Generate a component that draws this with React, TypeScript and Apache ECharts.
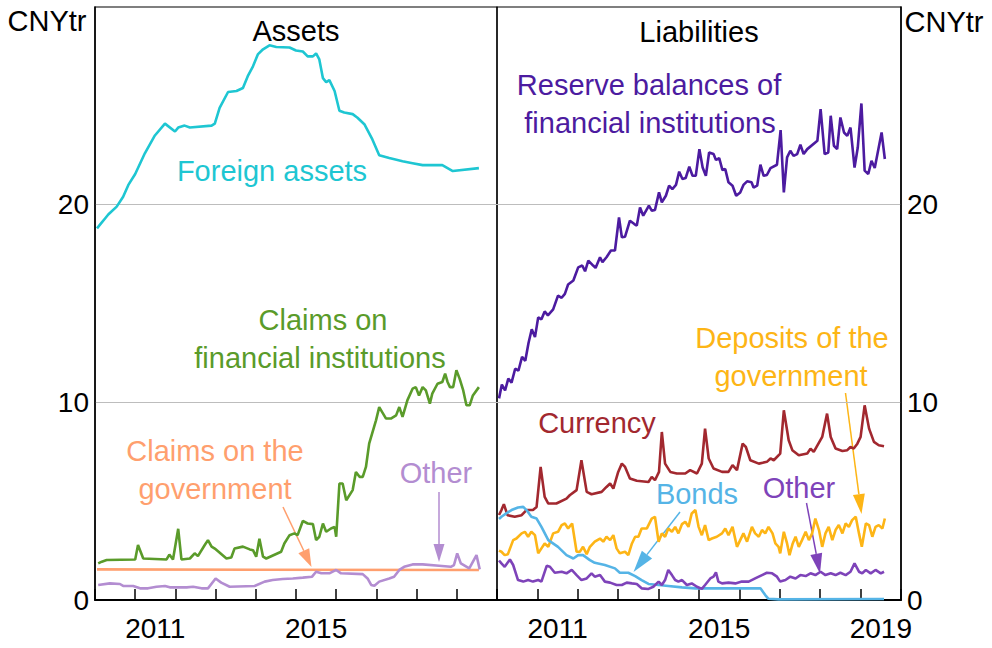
import React, { useEffect, useRef } from "react";
import * as echarts from "echarts";

const FONT = "'Liberation Sans', Arial, Helvetica, sans-serif";

const years = ["2010", "2011", "2012", "2013", "2014", "2015", "2016", "2017", "2018", "2019"];
const leftYearLabels = ["2011", "2015"];
const rightYearLabels = ["2011", "2015", "2019"];
const yTicks = [0, 10, 20];

// ---- Assets (CNY trillion), [decimal year, value]
const foreignAssets: [number, number][] = [
  [2010.05, 18.8], [2010.15, 19.05], [2010.25, 19.3], [2010.33, 19.5], [2010.54, 19.9], [2010.7, 20.4], [2010.83, 21.0],
  [2011.0, 21.55], [2011.24, 22.6], [2011.49, 23.5], [2011.74, 24.1], [2011.99, 23.7], [2012.07, 23.9], [2012.23, 24.0],
  [2012.36, 23.9], [2012.9, 24.0], [2012.98, 24.1], [2013.1, 24.9], [2013.31, 25.7], [2013.52, 25.75], [2013.68, 25.9],
  [2013.8, 26.5], [2013.93, 27.0], [2014.05, 27.6], [2014.18, 27.86], [2014.34, 28.06], [2014.51, 27.98], [2014.84, 27.95],
  [2015.0, 27.8], [2015.17, 27.75], [2015.29, 27.5], [2015.42, 27.5], [2015.5, 27.65], [2015.58, 27.35], [2015.67, 26.4],
  [2015.75, 26.2], [2015.83, 26.3], [2015.96, 25.75], [2016.08, 24.75], [2016.2, 24.66], [2016.41, 24.58], [2016.53, 24.4],
  [2016.7, 24.07], [2016.9, 23.3], [2017.07, 22.5], [2017.32, 22.36], [2017.65, 22.2], [2017.9, 22.1], [2018.15, 22.0],
  [2018.64, 22.0], [2018.9, 21.7], [2019.55, 21.85],
];
const claimsOnFinInst: [number, number][] = [
  [2010.08, 1.85], [2010.17, 1.94], [2010.29, 2.02], [2011.0, 2.05], [2011.07, 2.78], [2011.2, 2.1], [2011.78, 2.05],
  [2011.85, 2.3], [2011.94, 2.05], [2012.07, 3.6], [2012.15, 2.05], [2012.36, 2.1], [2012.48, 2.36], [2012.56, 2.22],
  [2012.73, 2.78], [2012.81, 3.03], [2012.9, 2.7], [2012.98, 2.6], [2013.27, 2.1], [2013.39, 2.15], [2013.47, 2.6],
  [2013.68, 2.7], [2013.85, 2.56], [2013.93, 2.52], [2014.01, 2.19], [2014.09, 3.1], [2014.18, 2.19], [2014.26, 2.1],
  [2014.63, 2.44], [2014.71, 2.86], [2014.84, 3.28], [2014.96, 3.37], [2015.04, 3.28], [2015.17, 4.0], [2015.29, 3.87],
  [2015.42, 3.84], [2015.5, 3.03], [2015.58, 3.2], [2015.67, 3.87], [2015.75, 3.45], [2015.87, 3.62], [2015.96, 3.7],
  [2016.0, 3.2], [2016.08, 5.89], [2016.16, 5.89], [2016.25, 5.05], [2016.41, 5.56], [2016.49, 6.48], [2016.58, 6.23],
  [2016.66, 6.23], [2016.74, 6.73], [2016.82, 7.91], [2016.99, 9.09], [2017.07, 9.76], [2017.24, 9.18], [2017.36, 9.18],
  [2017.49, 9.34], [2017.57, 9.76], [2017.65, 9.26], [2017.77, 10.1], [2017.9, 10.69], [2017.98, 10.77], [2018.06, 10.35],
  [2018.15, 10.77], [2018.23, 10.6], [2018.33, 9.93], [2018.39, 10.44], [2018.52, 10.94], [2018.64, 11.03], [2018.71, 11.45],
  [2018.77, 11.03], [2018.83, 10.77], [2018.91, 10.77], [2018.99, 11.62], [2019.07, 11.2], [2019.16, 10.6], [2019.24, 9.85],
  [2019.32, 9.85], [2019.4, 10.35], [2019.55, 10.77],
];
const claimsOnGovernment: [number, number][] = [
  [2010.05, 1.55], [2014.0, 1.53], [2019.55, 1.52],
];
const otherAssets: [number, number][] = [
  [2010.08, 0.76], [2010.37, 0.84], [2010.62, 0.81], [2010.7, 0.71], [2010.95, 0.71], [2011.12, 0.59], [2011.32, 0.59],
  [2011.53, 0.67], [2011.74, 0.71], [2011.86, 0.64], [2012.28, 0.64], [2012.44, 0.67], [2012.65, 0.59], [2012.81, 0.59],
  [2013.0, 1.09], [2013.14, 0.88], [2013.35, 0.67], [2013.97, 0.71], [2014.22, 0.93], [2014.42, 1.01], [2014.67, 1.06],
  [2014.92, 1.09], [2015.17, 1.13], [2015.4, 1.18], [2015.5, 1.43], [2015.63, 1.35], [2015.83, 1.35], [2016.0, 1.52],
  [2016.12, 1.35], [2016.66, 1.31], [2016.78, 1.09], [2016.87, 0.76], [2016.95, 0.72], [2017.07, 0.93], [2017.32, 1.09],
  [2017.44, 1.18], [2017.57, 1.52], [2017.69, 1.68], [2017.9, 1.8], [2018.15, 1.8], [2018.56, 1.73], [2018.85, 1.68],
  [2018.93, 1.77], [2019.01, 2.36], [2019.1, 1.85], [2019.31, 1.6], [2019.49, 2.27], [2019.57, 1.55],
];

// ---- Liabilities
const reserveBalances: [number, number][] = [
  [2010.05, 10.2], [2010.12, 10.9], [2010.2, 10.6], [2010.28, 11.2], [2010.36, 11.0], [2010.45, 11.7], [2010.53, 11.6],
  [2010.62, 12.3], [2010.7, 12.1], [2010.78, 13.0], [2010.86, 13.7], [2010.94, 13.3], [2011.02, 14.3], [2011.1, 14.2],
  [2011.18, 14.6], [2011.26, 14.4], [2011.39, 14.7], [2011.51, 15.4], [2011.6, 15.29], [2011.68, 15.49], [2011.76, 15.96],
  [2011.89, 16.16], [2012.01, 16.83], [2012.11, 16.92], [2012.18, 16.63], [2012.26, 17.17], [2012.38, 16.92], [2012.44, 16.8],
  [2012.55, 17.34], [2012.61, 17.09], [2012.71, 17.34], [2012.82, 17.68], [2012.92, 17.68], [2013.02, 19.36], [2013.09, 18.35],
  [2013.17, 18.38], [2013.29, 19.19], [2013.4, 19.02], [2013.46, 18.94], [2013.54, 19.86], [2013.62, 19.44], [2013.76, 19.95],
  [2013.83, 19.7], [2013.91, 19.73], [2014.01, 20.62], [2014.08, 20.12], [2014.18, 20.45], [2014.26, 20.96], [2014.34, 20.79],
  [2014.43, 21.0], [2014.51, 21.67], [2014.59, 21.3], [2014.67, 21.35], [2014.76, 21.92], [2014.84, 21.46], [2014.92, 21.46],
  [2015.01, 22.81], [2015.09, 21.88], [2015.17, 21.46], [2015.25, 22.64], [2015.36, 22.56], [2015.42, 22.26], [2015.5, 22.36],
  [2015.58, 21.75], [2015.65, 21.8], [2015.73, 21.13], [2015.83, 20.96], [2015.92, 20.45], [2016.02, 20.62], [2016.1, 21.0],
  [2016.19, 21.18], [2016.3, 21.13], [2016.35, 20.87], [2016.44, 20.96], [2016.52, 22.02], [2016.6, 21.46], [2016.68, 21.5],
  [2016.77, 21.85], [2016.93, 22.02], [2017.02, 23.77], [2017.1, 20.62], [2017.18, 22.39], [2017.26, 22.73], [2017.34, 22.47],
  [2017.43, 22.56], [2017.51, 23.03], [2017.59, 22.56], [2017.68, 22.81], [2017.93, 23.23], [2018.01, 24.83], [2018.11, 22.56],
  [2018.2, 22.64], [2018.26, 24.5], [2018.34, 22.98], [2018.42, 22.81], [2018.5, 24.41], [2018.59, 23.65], [2018.67, 23.48],
  [2018.75, 23.9], [2018.85, 21.88], [2018.93, 22.89], [2019.02, 25.12], [2019.1, 21.72], [2019.19, 21.55], [2019.27, 22.22],
  [2019.35, 21.85], [2019.52, 23.65], [2019.6, 22.31],
];
const currency: [number, number][] = [
  [2010.05, 4.3], [2010.11, 4.55], [2010.17, 4.85], [2010.26, 4.29], [2010.44, 4.21], [2010.61, 4.29], [2010.73, 4.55],
  [2010.89, 4.55], [2010.98, 4.71], [2011.08, 6.73], [2011.18, 5.22], [2011.27, 4.88], [2011.47, 4.88], [2011.72, 5.13],
  [2011.8, 5.3], [2011.97, 5.56], [2012.09, 7.07], [2012.22, 5.47], [2012.34, 5.35], [2012.59, 5.47], [2012.71, 5.72],
  [2012.8, 5.89], [2012.88, 5.64], [2013.0, 6.48], [2013.09, 6.9], [2013.17, 6.73], [2013.29, 6.15], [2013.46, 6.03],
  [2013.75, 5.97], [2013.83, 6.23], [2013.91, 6.06], [2014.01, 6.48], [2014.08, 8.5], [2014.16, 6.9], [2014.29, 6.48],
  [2014.45, 6.4], [2014.66, 6.4], [2014.78, 6.57], [2014.95, 6.4], [2015.07, 6.9], [2015.15, 8.67], [2015.24, 7.16],
  [2015.36, 6.65], [2015.57, 6.48], [2015.73, 6.48], [2015.83, 6.82], [2015.94, 6.57], [2016.08, 7.91], [2016.16, 7.74],
  [2016.27, 7.07], [2016.48, 6.9], [2016.68, 6.99], [2016.77, 7.16], [2016.85, 7.07], [2017.01, 7.41], [2017.1, 9.6],
  [2017.22, 8.08], [2017.31, 7.58], [2017.47, 7.32], [2017.68, 7.41], [2017.76, 7.66], [2017.84, 7.49], [2018.05, 8.25],
  [2018.17, 9.43], [2018.26, 8.25], [2018.38, 7.66], [2018.55, 7.54], [2018.67, 7.58], [2018.75, 7.74], [2018.83, 7.66],
  [2018.92, 7.91], [2019.0, 8.25], [2019.1, 9.85], [2019.21, 8.67], [2019.33, 8.0], [2019.45, 7.83], [2019.58, 7.78],
];
const bonds: [number, number][] = [
  [2010.05, 4.1], [2010.11, 4.21], [2010.23, 4.38], [2010.36, 4.55], [2010.52, 4.68], [2010.65, 4.71], [2010.73, 4.55],
  [2010.85, 4.21], [2010.98, 4.12], [2011.1, 3.7], [2011.27, 3.03], [2011.51, 2.69], [2011.72, 2.27], [2011.89, 2.1],
  [2012.01, 2.27], [2012.13, 2.27], [2012.3, 2.02], [2012.42, 1.88], [2012.67, 1.77], [2012.92, 1.6], [2013.04, 1.38],
  [2013.25, 1.38], [2013.42, 1.21], [2013.58, 1.01], [2013.75, 0.81], [2014.0, 0.76], [2014.24, 0.71], [2014.58, 0.64],
  [2014.91, 0.59], [2016.52, 0.59], [2016.64, 0.25], [2016.72, 0.06], [2016.97, 0.03], [2019.58, 0.05],
];
const govDeposits: [number, number][] = [
  [2010.05, 2.5], [2010.11, 2.44], [2010.19, 2.27], [2010.27, 2.32], [2010.4, 3.03], [2010.48, 3.11], [2010.61, 3.37],
  [2010.69, 3.45], [2010.77, 3.2], [2010.85, 3.45], [2010.94, 3.28], [2011.02, 2.36], [2011.1, 2.61], [2011.18, 2.86],
  [2011.27, 2.69], [2011.39, 3.37], [2011.51, 3.45], [2011.6, 3.79], [2011.68, 3.87], [2011.76, 3.62], [2011.86, 3.87],
  [2011.97, 2.44], [2012.05, 2.44], [2012.13, 2.69], [2012.22, 2.32], [2012.3, 2.69], [2012.42, 2.95], [2012.55, 3.11],
  [2012.63, 2.95], [2012.71, 3.2], [2012.8, 3.03], [2012.88, 3.28], [2012.96, 2.61], [2013.04, 2.36], [2013.17, 2.44],
  [2013.25, 2.27], [2013.34, 2.86], [2013.42, 3.2], [2013.5, 3.2], [2013.58, 3.62], [2013.71, 3.62], [2013.83, 4.12],
  [2013.91, 4.21], [2014.0, 2.95], [2014.08, 3.37], [2014.16, 3.2], [2014.24, 3.62], [2014.33, 3.45], [2014.41, 3.7],
  [2014.49, 3.37], [2014.58, 3.84], [2014.66, 3.96], [2014.74, 3.7], [2014.82, 4.38], [2014.91, 4.55], [2014.99, 3.7],
  [2015.07, 3.28], [2015.15, 3.79], [2015.24, 3.03], [2015.32, 3.11], [2015.44, 3.2], [2015.57, 3.37], [2015.65, 3.62],
  [2015.73, 3.28], [2015.83, 3.7], [2015.94, 2.69], [2016.02, 3.03], [2016.1, 3.37], [2016.19, 2.95], [2016.31, 3.7],
  [2016.39, 3.37], [2016.48, 3.2], [2016.56, 3.54], [2016.64, 3.37], [2016.72, 3.7], [2016.82, 3.37], [2016.89, 2.86],
  [2016.97, 2.69], [2017.01, 2.36], [2017.1, 3.45], [2017.18, 2.86], [2017.24, 2.27], [2017.32, 2.86], [2017.39, 3.2],
  [2017.47, 2.69], [2017.55, 3.03], [2017.64, 3.45], [2017.72, 3.03], [2017.8, 3.37], [2017.88, 4.12], [2017.97, 3.54],
  [2018.05, 2.69], [2018.13, 3.37], [2018.21, 3.7], [2018.3, 3.03], [2018.38, 3.54], [2018.46, 3.79], [2018.55, 3.37],
  [2018.63, 3.87], [2018.71, 3.7], [2018.79, 4.04], [2018.88, 4.21], [2018.96, 3.37], [2019.03, 2.69], [2019.13, 3.87],
  [2019.21, 3.79], [2019.29, 3.2], [2019.37, 3.7], [2019.45, 3.79], [2019.54, 3.62], [2019.6, 4.12],
];
const otherLiabilities: [number, number][] = [
  [2010.05, 2.0], [2010.11, 1.85], [2010.19, 1.68], [2010.32, 2.05], [2010.4, 1.77], [2010.52, 1.01], [2010.65, 0.93],
  [2010.77, 1.01], [2010.89, 0.93], [2011.02, 1.01], [2011.1, 0.93], [2011.23, 1.73], [2011.31, 1.68], [2011.43, 1.38],
  [2011.6, 1.43], [2011.72, 1.35], [2011.85, 1.52], [2011.97, 1.26], [2012.09, 1.01], [2012.22, 1.09], [2012.34, 1.35],
  [2012.42, 1.18], [2012.55, 1.26], [2012.67, 0.93], [2012.8, 0.88], [2012.96, 0.76], [2013.09, 0.76], [2013.21, 0.88],
  [2013.34, 0.84], [2013.46, 0.81], [2013.58, 0.59], [2013.75, 0.56], [2013.87, 0.67], [2014.0, 0.93], [2014.08, 0.76],
  [2014.16, 1.01], [2014.24, 1.52], [2014.33, 1.26], [2014.41, 1.01], [2014.49, 0.93], [2014.58, 1.01], [2014.7, 0.76],
  [2014.82, 0.84], [2014.95, 0.67], [2015.07, 0.56], [2015.15, 0.76], [2015.28, 1.09], [2015.36, 1.18], [2015.42, 1.4],
  [2015.48, 0.93], [2015.57, 0.84], [2015.73, 0.88], [2015.9, 0.84], [2016.06, 0.93], [2016.23, 0.93], [2016.39, 1.09],
  [2016.56, 1.26], [2016.68, 1.38], [2016.81, 1.35], [2016.93, 1.18], [2017.01, 0.93], [2017.14, 1.01], [2017.26, 1.18],
  [2017.39, 1.09], [2017.51, 1.26], [2017.64, 1.21], [2017.76, 1.35], [2017.88, 1.26], [2018.01, 1.43], [2018.13, 1.26],
  [2018.26, 1.35], [2018.38, 1.26], [2018.5, 1.38], [2018.63, 1.26], [2018.75, 1.43], [2018.85, 1.85], [2018.96, 1.43],
  [2019.04, 1.35], [2019.13, 1.52], [2019.25, 1.35], [2019.37, 1.52], [2019.5, 1.35], [2019.58, 1.43],
];

const C = {
  foreign: "#1EC6D2",
  finInst: "#5A9B2A",
  gov: "#FF9F6E",
  otherA: "#B38DD1",
  reserve: "#4C1BA0",
  currency: "#A2282F",
  bonds: "#55B4E6",
  deposits: "#FDB516",
  otherL: "#7E43B9",
};

function arrow(x1: number, y1: number, x2: number, y2: number, color: string, headLen = 18, headW = 12): any[] {
  const dx = x2 - x1, dy = y2 - y1;
  const len = Math.sqrt(dx * dx + dy * dy);
  const ux = dx / len, uy = dy / len;
  const bx = x2 - ux * headLen, by = y2 - uy * headLen;
  const px = -uy * headW / 2, py = ux * headW / 2;
  return [
    { type: "line", shape: { x1, y1, x2: bx, y2: by }, style: { stroke: color, lineWidth: 1.5 }, silent: true },
    { type: "polygon", shape: { points: [[x2, y2], [bx + px, by + py], [bx - px, by - py]] }, style: { fill: color }, silent: true },
  ];
}

function label(text: string, x: number, y: number, color: string, size = 29): any {
  return {
    type: "text", x, y, silent: true,
    style: { text, fill: color, fontSize: size, fontFamily: FONT, align: "center", verticalAlign: "middle" },
  };
}

export default function App() {
  const ref = useRef<HTMLDivElement>(null);
  useEffect(() => {
    document.body.style.margin = "0";
    const chart = echarts.init(ref.current!, undefined, { renderer: "svg" });
    const lineSeries = (name: string, data: [number, number][], color: string, idx: number, z = 2) => ({
      name, type: "line", data, xAxisIndex: idx, yAxisIndex: idx, showSymbol: false, symbol: "none",
      lineStyle: { color, width: 2.6 }, itemStyle: { color }, z, silent: true,
    });
    const catAxis = (gridIndex: number, shown: string[]) => ({
      type: "category", gridIndex, data: years, position: "bottom", boundaryGap: true,
      axisLine: { show: true, lineStyle: { color: "#000", width: 2 } },
      axisTick: { show: true, inside: true, length: 11, interval: 0, lineStyle: { color: "#000", width: 1.5 } },
      axisLabel: {
        show: true, interval: 0, margin: 14, color: "#000", fontSize: 28, fontFamily: FONT,
        formatter: (v: string) => (shown.indexOf(v) >= 0 ? v : ""),
      },
      splitLine: { show: false },
    });
    const valX = (gridIndex: number) => ({
      type: "value", gridIndex, min: 2010, max: 2020, show: false,
      axisLine: { show: false }, axisTick: { show: false }, axisLabel: { show: false }, splitLine: { show: false },
    });
    const valY = (gridIndex: number, position: string) => ({
      type: "value", gridIndex, min: 0, max: 30, interval: 10, position,
      axisLine: { show: true, lineStyle: { color: "#000", width: 1.5 } },
      axisTick: { show: false },
      axisLabel: {
        show: true, margin: 6, color: "#000", fontSize: 28, fontFamily: FONT,
        formatter: (v: number) => (yTicks.indexOf(v) >= 0 ? String(v) : ""),
      },
      splitLine: { show: true, showMinLine: false, showMaxLine: false, lineStyle: { color: "#BDBDBD", width: 1.2 } },
    });

    chart.setOption({
      animation: false,
      backgroundColor: "#fff",
      textStyle: { fontFamily: FONT },
      grid: [
        { left: 95, right: 495, top: 7, bottom: 48, show: true, borderColor: "#000", borderWidth: 1.2, backgroundColor: "transparent" },
        { left: 497, right: 91, top: 7, bottom: 48, show: true, borderColor: "#000", borderWidth: 1.2, backgroundColor: "transparent" },
      ],
      xAxis: [valX(0), valX(1), catAxis(0, leftYearLabels), catAxis(1, rightYearLabels)],
      yAxis: [valY(0, "left"), valY(1, "right")],
      series: [
        lineSeries("Foreign assets", foreignAssets, C.foreign, 0),
        lineSeries("Claims on the government", claimsOnGovernment, C.gov, 0),
        lineSeries("Other", otherAssets, C.otherA, 0),
        lineSeries("Claims on financial institutions", claimsOnFinInst, C.finInst, 0, 3),
        lineSeries("Reserve balances of financial institutions", reserveBalances, C.reserve, 1),
        lineSeries("Currency", currency, C.currency, 1),
        lineSeries("Deposits of the government", govDeposits, C.deposits, 1),
        lineSeries("Bonds", bonds, C.bonds, 1),
        lineSeries("Other", otherLiabilities, C.otherL, 1, 3),
      ],
      graphic: [
        label("CNYtr", 47, 21, "#000", 29),
        label("CNYtr", 944, 22, "#000", 29),
        label("Assets", 296, 31, "#000"),
        label("Liabilities", 699, 32, "#000"),
        label("Foreign assets", 272, 171, C.foreign),
        label("Claims on", 323, 320, C.finInst),
        label("financial institutions", 320, 358, C.finInst),
        label("Claims on the", 215, 451, C.gov),
        label("government", 215, 489, C.gov),
        label("Other", 436, 473, C.otherA),
        label("Reserve balances of", 649, 85, C.reserve),
        label("financial institutions", 650, 123, C.reserve),
        label("Deposits of the", 792, 338, C.deposits),
        label("government", 791, 376, C.deposits),
        label("Currency", 597, 423, C.currency),
        label("Bonds", 697, 494, C.bonds),
        label("Other", 799, 488, C.otherL),
        ...arrow(283, 507, 311.5, 567, C.gov, 18, 12),
        ...arrow(439, 492, 439, 562, C.otherA, 18, 11),
        ...arrow(845.5, 393, 861.5, 514, C.deposits, 20, 12),
        ...arrow(680, 512, 633.5, 572, C.bonds, 22, 13),
        ...arrow(806.5, 503, 820, 573.5, C.otherL, 20, 12),
      ],
    });
    return () => chart.dispose();
  }, []);
  return <div ref={ref} style={{ position: "absolute", left: 0, top: 0, width: 992, height: 648 }} />;
}
